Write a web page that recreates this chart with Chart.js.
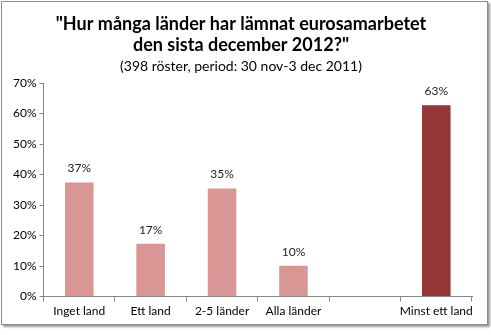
<!DOCTYPE html>
<html>
<head>
<meta charset="utf-8">
<script src="https://cdn.jsdelivr.net/npm/chart.js@4"></script>
<style>
  html, body { margin: 0; padding: 0; background: #fff; }
  #wrap {
    position: absolute; left: 1px; top: 1px; width: 485px; height: 322px;
    border: 1px solid #8c8c8c; box-shadow: 2px 2px 2px #9a9a9a; background: #fff;
  }
  canvas { display: block; }
</style>
</head>
<body>
<div id="wrap"><canvas id="myChart" width="485" height="322"></canvas></div>
<script>
let categories = ['Inget land', 'Ett land', '2-5 länder', 'Alla länder', '', 'Minst ett land'];
let values = [37.4, 17.3, 35.4, 10.1, null, 62.7];
let shownLabels = ['37%', '17%', '35%', '10%', '', '63%'];
let barColors = ['#D99694', '#D99694', '#D99694', '#D99694', '#D99694', '#953735'];

// labels above each bar
let valueLabels = {
    id: 'valueLabels',
    afterDatasetsDraw(chart) {
        let ctx = chart.ctx;
        let meta = chart.getDatasetMeta(0);
        ctx.save();
        ctx.font = '12px Lato';
        ctx.fillStyle = '#222';
        ctx.textAlign = 'center';
        ctx.textBaseline = 'bottom';
        meta.data.forEach(function (bar, i) {
            if (values[i] == null) return;
            ctx.fillText(shownLabels[i], bar.x, bar.y - 8);
        });
        ctx.restore();
    }
};

let chart = new Chart(document.getElementById('myChart').getContext('2d'), {
    type: 'bar',
    data: {
        labels: categories,
        datasets: [{
            data: values,
            backgroundColor: barColors,
            categoryPercentage: 0.4,
            barPercentage: 1
        }]
    },
    options: {
        responsive: false,
        animation: false,
        layout: { padding: { left: 8, right: 15, bottom: 4 } },
        plugins: {
            legend: { display: false },
            tooltip: { enabled: false },
            title: {
                display: true,
                text: ['"Hur många länder har lämnat eurosamarbetet', 'den sista december 2012?"'],
                font: { family: 'Lato', size: 18, weight: 'bold' },
                color: '#000',
                lineHeight: 1.25,
                padding: { top: 11, bottom: 2 }
            },
            subtitle: {
                display: true,
                text: '(398 röster, period: 30 nov-3 dec 2011)',
                font: { family: 'Lato', size: 14 },
                color: '#000',
                padding: { top: 0, bottom: 8 }
            }
        },
        scales: {
            x: {
                grid: { offset: true, drawOnChartArea: false, tickLength: 5, color: '#868686' },
                border: { color: '#868686' },
                ticks: { color: '#000', font: { family: 'Lato', size: 12 }, maxRotation: 0, autoSkip: false, padding: 2 }
            },
            y: {
                min: 0,
                max: 70,
                grid: { drawOnChartArea: false, tickLength: 4, color: '#868686' },
                border: { color: '#868686' },
                ticks: {
                    stepSize: 10,
                    color: '#000',
                    font: { family: 'Lato', size: 12 },
                    padding: 3,
                    callback: function (v) { return v + '%'; }
                }
            }
        }
    },
    plugins: [valueLabels]
});
</script>
</body>
</html>
